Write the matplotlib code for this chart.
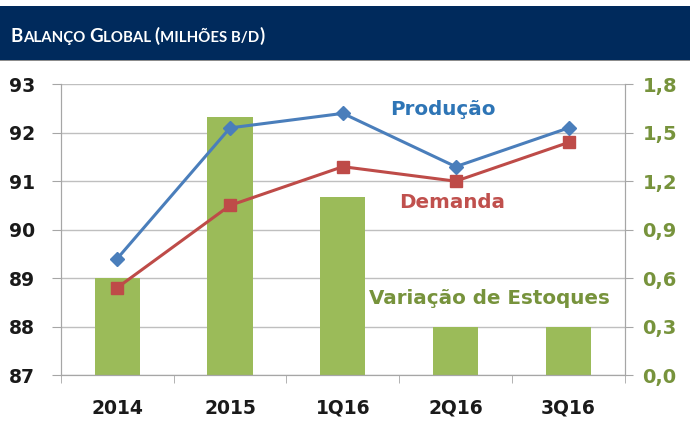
import matplotlib
matplotlib.use("Agg")
import matplotlib.pyplot as plt
from matplotlib.patches import Rectangle
from matplotlib.ticker import FuncFormatter, FixedLocator
from matplotlib.font_manager import FontProperties

# data
periods = ["2014", "2015", "1Q16", "2Q16", "3Q16"]
producao = [89.4, 92.1, 92.4, 91.3, 92.1]
demanda = [88.8, 90.5, 91.3, 91.0, 91.8]
estoques = [0.6, 1.6, 1.1, 0.3, 0.3]

W, H = 690, 423
fig = plt.figure(figsize=(W / 100, H / 100), dpi=100)

# title bar
fig.patches.append(Rectangle((0, 1 - 60 / H), 1, 54 / H, transform=fig.transFigure,
                             facecolor="#002A5C", edgecolor="none", zorder=0))
fig.patches.append(Rectangle((0, 1 - 61.5 / H), 1, 1.5 / H, transform=fig.transFigure,
                             facecolor="#8C8C8C", edgecolor="none", zorder=0))

ax = fig.add_axes([60.7 / W, 1 - 375 / H, (625 - 60.7) / W, (375 - 84.3) / H])
ax2 = ax.twinx()
ax.set_zorder(ax2.get_zorder() + 1)
ax.patch.set_visible(False)

x = list(range(len(periods)))
green = "#9BBB59"
ax2.bar(x, estoques, width=0.4, color=green, zorder=2)
ax2.set_ylim(0, 1.8)
ax2.set_yticks([0, 0.3, 0.6, 0.9, 1.2, 1.5, 1.8])
ax2.yaxis.set_major_formatter(FuncFormatter(lambda v, p: f"{v:.1f}".replace(".", ",")))
ax2.set_axisbelow(True)
ax2.grid(axis="y", color="#BFBFBF", linewidth=1.0)

ax.plot(x, producao, color="#4A7EBB", lw=2.2, marker="D", markersize=7.5, zorder=3)
ax.plot(x, demanda, color="#BE4B48", lw=2.2, marker="s", markersize=9, zorder=3)
ax.set_ylim(87, 93)
ax.set_yticks(range(87, 94))
ax.set_xlim(-0.5, 4.5)
ax.set_xticks(x)
ax.set_xticklabels(periods)
ax.xaxis.set_minor_locator(FixedLocator([i - 0.5 for i in range(len(periods) + 1)]))

for a in (ax, ax2):
    a.spines["top"].set_visible(False)
    for s in ("left", "right", "bottom"):
        a.spines[s].set_color("#A6A6A6")

ax.tick_params(axis="y", length=6.5, color="#A6A6A6", pad=12)
ax.tick_params(axis="x", which="major", length=0, pad=17)
ax.tick_params(axis="x", which="minor", length=5.5, color="#A6A6A6")
ax2.tick_params(axis="y", length=5.5, color="#A6A6A6", pad=7, labelcolor="#77933C")
for lab in ax.get_yticklabels() + ax.get_xticklabels():
    lab.set_fontproperties(FontProperties(family="DejaVu Sans", weight="bold", size=13.5))
    lab.set_color("#1A1A1A")
for lab in ax2.get_yticklabels():
    lab.set_fontproperties(FontProperties(family="DejaVu Sans", weight="bold", size=14))

lbl = dict(family="DejaVu Sans", weight="bold", size=14.3, ha="center", va="center")
ax.text(2.886, 92.47, "Produção", color="#2E75B6", **lbl)
ax.text(2.966, 90.57, "Demanda", color="#C0504D", **lbl)
ax.text(3.30, 88.57, "Variação de Estoques", color="#77933C", **lbl)

# small caps title built piece by piece
fig.canvas.draw()
r = fig.canvas.get_renderer()
pieces = [("B", True), ("ALANÇO ", False), ("G", True), ("LOBAL ", False),
          ("(", True), ("MILHÕES B/D", False), (")", True)]
px = 11
for s, big in pieces:
    t = fig.text(px / W, 1 - 42 / H, s, color="white", family="Lato", weight="bold",
                 fontsize=13.5 if big else 10.8, va="baseline", ha="left")
    px += t.get_window_extent(r).width

fig.savefig("out.png", dpi=100)
